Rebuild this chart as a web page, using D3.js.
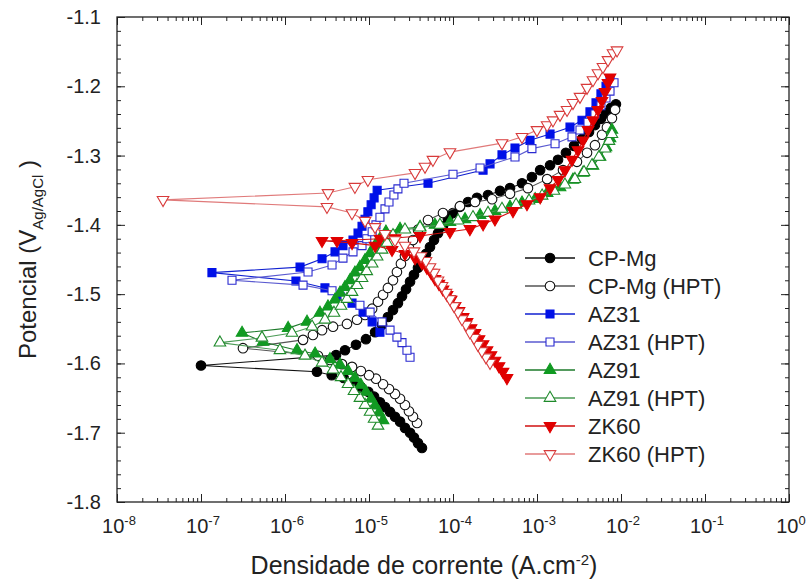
<!DOCTYPE html>
<html>
<head>
<meta charset="utf-8">
<script src="https://cdn.jsdelivr.net/npm/d3@7"></script>
<style>
  body { margin: 0; background: #fff; }
  text { font-family: Arial, "Liberation Sans", sans-serif; fill: #222; }
</style>
</head>
<body>
<svg id="chart" width="810" height="581"></svg>
<script>
// Curvas de polarização: [densidade de corrente (A/cm2), potencial (V Ag/AgCl)]
// ordem: ramo catódico (fim) -> Ecorr -> ramo anódico
const cpMg = [
  [4.27e-5,-1.722],[3.83e-5,-1.715],[3.43e-5,-1.707],[3.08e-5,-1.700],[2.68e-5,-1.693],[2.34e-5,-1.684],
  [2.04e-5,-1.677],[1.78e-5,-1.670],[1.55e-5,-1.663],[1.35e-5,-1.656],[1.15e-5,-1.648],[9.8e-6,-1.641],
  [8.0e-6,-1.634],[6.45e-6,-1.627],[5.0e-6,-1.621],[3.6e-6,-1.617],[2.4e-6,-1.612],
  [1.0e-7,-1.603],
  [4.05e-6,-1.588],[5.18e-6,-1.581],[7.0e-6,-1.573],[9.2e-6,-1.565],[1.18e-5,-1.555],[1.43e-5,-1.544],
  [1.68e-5,-1.533],[1.93e-5,-1.523],[2.21e-5,-1.513],[2.47e-5,-1.503],[2.76e-5,-1.493],[3.08e-5,-1.482],
  [3.43e-5,-1.472],[3.83e-5,-1.462],[4.27e-5,-1.452],[4.77e-5,-1.442],[5.32e-5,-1.432],[5.94e-5,-1.422],
  [6.63e-5,-1.412],[7.6e-5,-1.402],[8.7e-5,-1.392],[1.0e-4,-1.383],[1.21e-4,-1.374],[1.51e-4,-1.367],
  [1.93e-4,-1.361],[2.61e-4,-1.357],[3.63e-4,-1.351],[4.77e-4,-1.347],[6.63e-4,-1.340],[8.7e-4,-1.331],
  [1.09e-3,-1.321],[1.43e-3,-1.314],[1.78e-3,-1.306],[2.21e-3,-1.296],[2.76e-3,-1.286],[3.43e-3,-1.276],
  [4.16e-3,-1.266],[4.9e-3,-1.256],[5.77e-3,-1.247],[6.63e-3,-1.239],[7.6e-3,-1.231],[8.7e-3,-1.226]
];
const cpMgHpt = [
  [3.73e-5,-1.686],[3.34e-5,-1.677],[2.99e-5,-1.669],[2.68e-5,-1.660],[2.34e-5,-1.651],[2.04e-5,-1.644],
  [1.73e-5,-1.637],[1.47e-5,-1.630],[1.21e-5,-1.622],[1.0e-5,-1.617],[8.0e-6,-1.611],[6.28e-6,-1.605],
  [4.77e-6,-1.601],[3.43e-6,-1.595],[2.47e-6,-1.589],
  [3.16e-7,-1.578],
  [1.64e-6,-1.566],[2.15e-6,-1.559],[2.76e-6,-1.552],[3.73e-6,-1.547],[5.47e-6,-1.543],[7.2e-6,-1.537],
  [8.97e-6,-1.530],[1.09e-5,-1.521],[1.28e-5,-1.511],[1.47e-5,-1.501],[1.68e-5,-1.491],[1.93e-5,-1.480],
  [2.15e-5,-1.468],[2.4e-5,-1.456],[2.68e-5,-1.445],[2.99e-5,-1.433],[3.34e-5,-1.422],[3.83e-5,-1.407],
  [5.04e-5,-1.393],[7.6e-5,-1.383],[1.21e-4,-1.373],[1.83e-4,-1.367],[2.92e-4,-1.363],[4.77e-4,-1.355],
  [7.8e-4,-1.347],[1.32e-3,-1.334],[2.04e-3,-1.321],[2.99e-3,-1.309],[3.94e-3,-1.296],[4.9e-3,-1.285],
  [5.94e-3,-1.270],[6.8e-3,-1.259],[7.8e-3,-1.246],[8.5e-3,-1.234]
];
const az31 = [
  [1.35e-5,-1.555],[1.09e-5,-1.540],[8.5e-6,-1.526],[6.28e-6,-1.513],[4.52e-6,-1.503],[2.99e-6,-1.491],
  [1.35e-6,-1.481],
  [1.35e-7,-1.469],
  [1.51e-6,-1.461],[2.76e-6,-1.449],[3.94e-6,-1.439],[4.9e-6,-1.430],[6.45e-6,-1.422],[7.4e-6,-1.412],
  [8.26e-6,-1.402],[8.97e-6,-1.392],[9.7e-6,-1.381],[1.06e-5,-1.371],[1.15e-5,-1.361],[1.25e-5,-1.350],
  [5.04e-5,-1.340],[2.28e-4,-1.321],[2.76e-4,-1.312],[3.83e-4,-1.299],[5.47e-4,-1.289],[8.26e-4,-1.278],
  [1.43e-3,-1.269],[2.47e-3,-1.259],[3.43e-3,-1.249],[4.27e-3,-1.237],[5.04e-3,-1.224],[5.77e-3,-1.211],
  [6.63e-3,-1.200],[7.4e-3,-1.191]
];
const az31Hpt = [
  [3.08e-5,-1.591],[2.83e-5,-1.581],[2.47e-5,-1.570],[2.15e-5,-1.562],[1.78e-5,-1.552],[1.43e-5,-1.540],
  [1.03e-5,-1.526],[7.8e-6,-1.516],[5.18e-6,-1.506],[3.63e-6,-1.495],[1.64e-6,-1.487],
  [2.34e-7,-1.480],
  [1.88e-6,-1.468],[3.63e-6,-1.458],[4.9e-6,-1.448],[6.45e-6,-1.439],[8.26e-6,-1.430],[9.4e-6,-1.420],
  [1.09e-5,-1.410],[1.21e-5,-1.400],[1.35e-5,-1.389],[1.55e-5,-1.377],[1.73e-5,-1.367],[1.98e-5,-1.357],
  [2.21e-5,-1.348],[2.61e-5,-1.340],[1.0e-4,-1.327],[2.1e-4,-1.318],[5.47e-4,-1.302],[8.7e-4,-1.290],
  [1.64e-3,-1.283],[2.61e-3,-1.273],[3.25e-3,-1.263],[4.05e-3,-1.252],[4.9e-3,-1.240],[5.77e-3,-1.228],
  [6.63e-3,-1.217],[7.4e-3,-1.207],[8.26e-3,-1.195]
];
const az91 = [
  [1.47e-5,-1.682],[1.32e-5,-1.671],[1.18e-5,-1.661],[1.06e-5,-1.651],[9.2e-6,-1.641],[8.0e-6,-1.631],
  [6.8e-6,-1.621],[5.63e-6,-1.611],[4.52e-6,-1.602],[3.43e-6,-1.594],[2.28e-6,-1.586],[1.39e-6,-1.581],
  [5.47e-7,-1.569],
  [3.08e-7,-1.556],
  [1.09e-6,-1.549],[1.83e-6,-1.540],[2.61e-6,-1.527],[3.25e-6,-1.518],[3.94e-6,-1.508],[4.52e-6,-1.498],
  [5.18e-6,-1.490],[5.94e-6,-1.480],[6.8e-6,-1.469],[7.8e-6,-1.461],[8.97e-6,-1.451],[1.03e-5,-1.441],
  [1.18e-5,-1.430],[1.35e-5,-1.420],[1.59e-5,-1.410],[2.34e-5,-1.406],[4.05e-5,-1.403],[6.1e-5,-1.400],
  [9.2e-5,-1.396],[1.39e-4,-1.392],[2.1e-4,-1.386],[3.16e-4,-1.380],[4.77e-4,-1.374],[6.63e-4,-1.368],
  [9.5e-4,-1.363],[1.32e-3,-1.354],[1.88e-3,-1.346],[2.68e-3,-1.335],[3.53e-3,-1.325],[4.64e-3,-1.315],
  [5.63e-3,-1.302],[6.63e-3,-1.288],[7.4e-3,-1.275],[7.8e-3,-1.263]
];
const az91Hpt = [
  [1.28e-5,-1.690],[1.15e-5,-1.680],[1.03e-5,-1.670],[8.97e-6,-1.660],[7.8e-6,-1.650],[6.63e-6,-1.640],
  [5.63e-6,-1.630],[4.64e-6,-1.620],[3.73e-6,-1.609],[2.76e-6,-1.599],[1.73e-6,-1.589],[8.7e-7,-1.581],
  [1.68e-7,-1.570],
  [5.32e-7,-1.563],[1.21e-6,-1.556],[2.1e-6,-1.547],[2.99e-6,-1.537],[3.83e-6,-1.527],[4.64e-6,-1.517],
  [5.47e-6,-1.507],[6.28e-6,-1.497],[7.2e-6,-1.487],[8.26e-6,-1.477],[9.4e-6,-1.467],[1.09e-5,-1.456],
  [1.25e-5,-1.446],[1.43e-5,-1.436],[1.64e-5,-1.426],[1.93e-5,-1.415],[2.68e-5,-1.407],[4.05e-5,-1.404],
  [7.0e-5,-1.400],[1.15e-4,-1.394],[1.73e-4,-1.389],[2.61e-4,-1.383],[3.83e-4,-1.377],[5.63e-4,-1.371],
  [8.04e-4,-1.365],[1.15e-3,-1.358],[1.59e-3,-1.351],[2.15e-3,-1.342],[2.83e-3,-1.334],[3.63e-3,-1.324],
  [4.52e-3,-1.314],[5.47e-3,-1.302],[6.45e-3,-1.290],[7.2e-3,-1.279],[7.8e-3,-1.269]
];
const zk60 = [
  [4.39e-4,-1.621],[3.94e-4,-1.612],[3.53e-4,-1.604],[3.16e-4,-1.596],[2.83e-4,-1.588],[2.54e-4,-1.581],
  [2.28e-4,-1.572],[2.04e-4,-1.565],[1.83e-4,-1.556],[1.64e-4,-1.549],[1.47e-4,-1.540],[1.32e-4,-1.533],
  [1.18e-4,-1.524],[1.06e-4,-1.517],[9.5e-5,-1.508],[8.5e-5,-1.501],[7.6e-5,-1.493],[6.8e-5,-1.485],
  [6.1e-5,-1.478],[5.47e-5,-1.469],[4.9e-5,-1.462],[4.27e-5,-1.455],[3.53e-5,-1.448],[2.68e-5,-1.442],
  [1.88e-5,-1.436],[1.18e-5,-1.430],[6.28e-6,-1.426],
  [2.76e-6,-1.423],
  [4.16e-6,-1.423],[1.35e-5,-1.420],[2.04e-5,-1.419],[4.05e-5,-1.416],[9.2e-5,-1.410],[1.59e-4,-1.406],
  [2.28e-4,-1.399],[3.16e-4,-1.392],[5.18e-4,-1.380],[7.6e-4,-1.370],[1.09e-3,-1.360],[1.43e-3,-1.347],
  [1.78e-3,-1.335],[2.15e-3,-1.321],[2.61e-3,-1.306],[3.08e-3,-1.292],[3.53e-3,-1.278],[4.05e-3,-1.263],
  [4.64e-3,-1.249],[5.32e-3,-1.234],[5.94e-3,-1.221],[6.45e-3,-1.208],[7.0e-3,-1.195],[7.4e-3,-1.187]
];
const zk60Hpt = [
  [2.76e-4,-1.599],[2.47e-4,-1.591],[2.21e-4,-1.582],[1.98e-4,-1.573],[1.78e-4,-1.563],[1.59e-4,-1.555],
  [1.43e-4,-1.544],[1.28e-4,-1.536],[1.15e-4,-1.526],[1.03e-4,-1.517],[9.2e-5,-1.507],[8.26e-5,-1.498],
  [7.4e-5,-1.488],[6.63e-5,-1.480],[5.94e-5,-1.469],[5.32e-5,-1.461],[4.77e-5,-1.452],[4.16e-5,-1.445],
  [3.43e-5,-1.438],[2.68e-5,-1.430],[2.04e-5,-1.422],[1.55e-5,-1.413],[1.18e-5,-1.403],[8.97e-6,-1.394],
  [6.28e-6,-1.383],[3.16e-6,-1.374],
  [3.53e-8,-1.364],
  [3.25e-6,-1.354],[6.8e-6,-1.345],[9.7e-6,-1.335],[3.53e-5,-1.325],[4.64e-5,-1.316],[5.77e-5,-1.306],
  [9.2e-5,-1.295],[3.83e-4,-1.282],[6.63e-4,-1.273],[1.0e-3,-1.263],[1.32e-3,-1.256],[1.55e-3,-1.249],
  [1.88e-3,-1.241],[2.28e-3,-1.234],[2.68e-3,-1.224],[3.25e-3,-1.215],[3.94e-3,-1.202],[4.64e-3,-1.191],
  [5.32e-3,-1.181],[6.1e-3,-1.172],[7.0e-3,-1.162],[8.04e-3,-1.152],[8.97e-3,-1.148]
];

const seriesNames = ["CP-Mg", "CP-Mg (HPT)", "AZ31", "AZ31 (HPT)", "AZ91", "AZ91 (HPT)", "ZK60", "ZK60 (HPT)"];
const xTickExps = [-8, -7, -6, -5, -4, -3, -2, -1, 0];
const yTicks = [-1.8, -1.7, -1.6, -1.5, -1.4, -1.3, -1.2, -1.1];

// estilo de cada série
const styles = [
  { data: cpMg,    shape: "circle",   fill: "#000",    stroke: "#000",    line: "#111" },
  { data: cpMgHpt, shape: "circle",   fill: "#fff",    stroke: "#111",    line: "#555" },
  { data: az31,    shape: "square",   fill: "#0010e8", stroke: "#0010e8", line: "#1020d0" },
  { data: az31Hpt, shape: "square",   fill: "#fff",    stroke: "#2a2ad0", line: "#5a5ad0" },
  { data: az91,    shape: "triangle", fill: "#119a22", stroke: "#119a22", line: "#1d7a2a" },
  { data: az91Hpt, shape: "triangle", fill: "#fff",    stroke: "#1e8a2a", line: "#4a9a55" },
  { data: zk60,    shape: "down",     fill: "#e00000", stroke: "#e00000", line: "#d01010" },
  { data: zk60Hpt, shape: "down",     fill: "#fff",    stroke: "#d83a3a", line: "#e07a7a" }
];

const svg = d3.select("#chart");
const plot = { left: 117, right: 789, top: 17, bottom: 502 };

const x = d3.scaleLog().domain([1e-8, 1]).range([plot.left, plot.right]);
const y = d3.scaleLinear().domain([-1.8, -1.1]).range([plot.bottom, plot.top]);

// ticks (para dentro, nos quatro lados)
const xMinor = [];
for (let k = -8; k < 0; k++) for (let m = 2; m <= 9; m++) xMinor.push(m * Math.pow(10, k));
const yMinor = d3.range(-1.8, -1.1001, 0.02);

function addAxis(axis, tx, ty) {
  const g = svg.append("g").attr("transform", `translate(${tx},${ty})`).call(axis);
  g.select(".domain").remove();
  g.selectAll("line").attr("stroke", "#222").attr("stroke-width", 1);
}
addAxis(d3.axisBottom(x).tickValues(xTickExps.map(e => Math.pow(10, e))).tickSize(-8).tickFormat(""), 0, plot.bottom);
addAxis(d3.axisBottom(x).tickValues(xMinor).tickSize(-4).tickFormat(""), 0, plot.bottom);
addAxis(d3.axisTop(x).tickValues(xTickExps.map(e => Math.pow(10, e))).tickSize(-8).tickFormat(""), 0, plot.top);
addAxis(d3.axisTop(x).tickValues(xMinor).tickSize(-4).tickFormat(""), 0, plot.top);
addAxis(d3.axisLeft(y).tickValues(yTicks).tickSize(-8).tickFormat(""), plot.left, 0);
addAxis(d3.axisLeft(y).tickValues(yMinor).tickSize(-4).tickFormat(""), plot.left, 0);
addAxis(d3.axisRight(y).tickValues(yTicks).tickSize(-8).tickFormat(""), plot.right, 0);
addAxis(d3.axisRight(y).tickValues(yMinor).tickSize(-4).tickFormat(""), plot.right, 0);

// moldura
svg.append("rect")
  .attr("x", plot.left).attr("y", plot.top)
  .attr("width", plot.right - plot.left).attr("height", plot.bottom - plot.top)
  .attr("fill", "none").attr("stroke", "#222").attr("stroke-width", 1.3);

// rótulos dos ticks
svg.selectAll(".ylab").data(yTicks).enter().append("text")
  .attr("x", plot.left - 16).attr("y", d => y(d)).attr("dy", "0.35em")
  .attr("text-anchor", "end").attr("font-size", 20)
  .text(d => d.toFixed(1));

const xl = svg.selectAll(".xlab").data(xTickExps).enter().append("text")
  .attr("x", d => x(Math.pow(10, d)) + 2).attr("y", 533)
  .attr("text-anchor", "middle").attr("font-size", 20);
xl.append("tspan").text("10");
xl.append("tspan").attr("dy", -8).attr("font-size", 13).text(d => d);

// títulos dos eixos
const xt = svg.append("text").attr("x", 424).attr("y", 574)
  .attr("text-anchor", "middle").attr("font-size", 25);
xt.append("tspan").text("Densidade de corrente (A.cm");
xt.append("tspan").attr("dy", -9).attr("font-size", 15).text("-2");
xt.append("tspan").attr("dy", 9).text(")");

const yt = svg.append("text").attr("transform", `translate(36,${(plot.top + plot.bottom) / 2}) rotate(-90)`)
  .attr("text-anchor", "middle").attr("font-size", 24);
yt.append("tspan").text("Potencial (V");
yt.append("tspan").attr("dy", 7).attr("font-size", 15).text("Ag/AgCl");
yt.append("tspan").attr("dy", -7).text(" )");

// marcadores
const symbolFor = {
  circle: d3.symbol().type(d3.symbolCircle).size(72),
  square: d3.symbol().type(d3.symbolSquare).size(64),
  triangle: d3.symbol().type(d3.symbolTriangle).size(58),
  down: d3.symbol().type(d3.symbolTriangle).size(58)
};
function drawMarker(g, s, px, py) {
  g.append("path")
    .attr("d", symbolFor[s.shape]())
    .attr("transform", `translate(${px},${py})` + (s.shape === "down" ? " rotate(180)" : ""))
    .attr("fill", s.fill).attr("stroke", s.stroke).attr("stroke-width", 1.1);
}

const line = d3.line().x(d => x(d[0])).y(d => y(d[1]));

styles.forEach(s => {
  const g = svg.append("g");
  g.append("path").datum(s.data).attr("d", line)
    .attr("fill", "none").attr("stroke", s.line).attr("stroke-width", 1.1);
  s.data.forEach(d => drawMarker(g, s, x(d[0]), y(d[1])));
});

// legenda
const legend = svg.append("g");
seriesNames.forEach((name, i) => {
  const s = styles[i];
  const ly = 258 + i * 28;
  legend.append("line").attr("x1", 525).attr("x2", 575).attr("y1", ly).attr("y2", ly)
    .attr("stroke", s.line).attr("stroke-width", 1.3);
  drawMarker(legend, s, 550, ly);
  legend.append("text").attr("x", 588).attr("y", ly).attr("dy", "0.36em")
    .attr("font-size", 22).text(name);
});
</script>
</body>
</html>
